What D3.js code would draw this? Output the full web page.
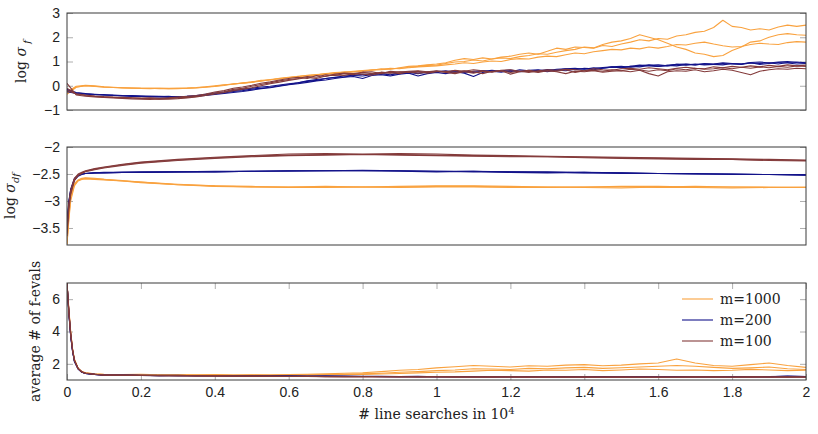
<!DOCTYPE html>
<html><head><meta charset="utf-8">
<script src="https://cdn.jsdelivr.net/npm/d3@7"></script>
<style>
body{margin:0;background:#fff}
svg{display:block;font-family:"DejaVu Serif",serif}
</style></head><body>
<div id="chart"></div>
<script>
// x in units of 10^4 line searches
const xTicks = [0, 0.2, 0.4, 0.6, 0.8, 1, 1.2, 1.4, 1.6, 1.8, 2];
const yTicks1 = [-1, 0, 1, 2, 3];
const yTicks2 = [-3.5, -3, -2.5, -2];
const yTicks3 = [2, 4, 6];
const seriesNames = ["m=1000", "m=200", "m=100"];

// panel 1: log sigma_f, sampled every 0.025
const p1X = d3.range(81).map(i => i * 0.025);
const p1_m1000 = [
  [-0.35,-0.06,0.0,-0.03,-0.05,-0.07,-0.08,-0.09,-0.1,-0.11,-0.11,-0.12,-0.11,-0.1,-0.08,-0.05,-0.02,0.03,0.08,0.1,0.16,0.2,0.26,0.3,0.33,0.39,0.42,0.44,0.5,0.53,0.55,0.6,0.62,0.64,0.7,0.68,0.74,0.8,0.82,0.86,0.9,
   0.95,1.05,1.12,1.08,1.15,1.1,1.18,1.22,1.3,1.35,1.3,1.42,1.55,1.5,1.6,1.58,1.55,1.66,1.62,1.72,1.8,1.9,1.85,1.95,1.92,2.05,2.1,2.2,2.25,2.4,2.7,2.45,2.4,2.3,2.35,2.3,2.42,2.5,2.45,2.5],
  [-0.25,-0.02,0.02,0.0,-0.04,-0.06,-0.08,-0.1,-0.1,-0.1,-0.12,-0.11,-0.1,-0.09,-0.07,-0.04,0.0,0.04,0.06,0.12,0.15,0.22,0.24,0.31,0.35,0.37,0.43,0.46,0.48,0.54,0.57,0.58,0.63,0.66,0.67,0.72,0.7,0.76,0.8,0.84,0.85,
   0.92,0.98,1.0,1.06,1.02,1.1,1.15,1.12,1.2,1.25,1.32,1.3,1.38,1.45,1.5,1.6,1.56,1.7,1.8,1.85,1.95,2.1,2.0,1.9,1.75,1.6,1.5,1.35,1.3,1.2,1.25,1.45,1.6,1.8,1.85,2.0,2.1,2.15,2.1,2.08],
  [-0.3,-0.05,0.0,-0.02,-0.06,-0.07,-0.09,-0.09,-0.11,-0.12,-0.1,-0.12,-0.12,-0.1,-0.09,-0.06,-0.03,0.01,0.07,0.11,0.14,0.19,0.25,0.28,0.34,0.38,0.4,0.45,0.49,0.51,0.56,0.57,0.6,0.65,0.66,0.69,0.72,0.74,0.78,0.8,0.82,
   0.86,0.9,0.95,0.92,0.98,1.02,1.0,1.08,1.12,1.1,1.18,1.22,1.2,1.28,1.35,1.32,1.4,1.45,1.5,1.48,1.55,1.52,1.6,1.55,1.62,1.7,1.68,1.75,1.8,1.72,1.65,1.6,1.62,1.7,1.75,1.72,1.7,1.78,1.82,1.8]
];
const p1_m200 = [
  [-0.2,-0.3,-0.33,-0.35,-0.37,-0.38,-0.4,-0.41,-0.42,-0.43,-0.44,-0.46,-0.45,-0.43,-0.4,-0.35,-0.3,-0.26,-0.2,-0.15,-0.1,-0.05,-0.02,0.03,0.08,0.12,0.2,0.26,0.3,0.35,0.4,0.43,0.47,0.48,0.52,0.55,0.5,0.56,0.58,0.55,0.6,
   0.58,0.62,0.55,0.6,0.63,0.58,0.62,0.65,0.6,0.64,0.66,0.62,0.68,0.7,0.66,0.72,0.7,0.75,0.78,0.74,0.8,0.85,0.82,0.8,0.84,0.88,0.85,0.9,0.86,0.88,0.92,0.9,0.88,0.94,0.92,0.95,0.9,0.96,0.98,0.95],
  [-0.15,-0.28,-0.32,-0.36,-0.36,-0.39,-0.41,-0.4,-0.43,-0.44,-0.45,-0.44,-0.47,-0.44,-0.42,-0.38,-0.33,-0.3,-0.24,-0.2,-0.14,-0.1,-0.06,0.0,0.05,0.12,0.18,0.22,0.3,0.34,0.36,0.42,0.4,0.46,0.5,0.45,0.52,0.55,0.5,0.56,0.58,
   0.62,0.56,0.6,0.55,0.6,0.64,0.6,0.58,0.66,0.62,0.6,0.67,0.64,0.7,0.72,0.68,0.74,0.72,0.78,0.8,0.76,0.82,0.86,0.8,0.84,0.82,0.88,0.86,0.9,0.88,0.86,0.92,0.9,0.95,0.88,0.92,0.96,0.94,0.9,0.92],
  [-0.25,-0.32,-0.35,-0.37,-0.39,-0.4,-0.42,-0.44,-0.44,-0.46,-0.45,-0.47,-0.46,-0.45,-0.43,-0.4,-0.36,-0.32,-0.28,-0.24,-0.18,-0.12,-0.08,-0.02,0.04,0.08,0.14,0.2,0.24,0.3,0.35,0.38,0.3,0.42,0.46,0.4,0.48,0.52,0.4,0.5,0.55,
   0.5,0.58,0.52,0.38,0.55,0.6,0.56,0.62,0.58,0.6,0.64,0.58,0.65,0.62,0.68,0.7,0.66,0.72,0.76,0.74,0.8,0.78,0.84,0.86,0.82,0.88,0.9,0.86,0.92,0.9,0.95,0.92,0.9,0.96,0.98,0.94,0.98,1.0,0.96,0.94]
];
const p1_m100 = [
  [-0.1,-0.35,-0.4,-0.44,-0.47,-0.48,-0.5,-0.5,-0.52,-0.53,-0.55,-0.52,-0.5,-0.48,-0.44,-0.38,-0.3,-0.25,-0.15,-0.1,-0.02,0.05,0.12,0.2,0.26,0.3,0.38,0.35,0.45,0.42,0.5,0.46,0.55,0.5,0.56,0.52,0.58,0.55,0.6,0.52,0.58,
   0.6,0.55,0.62,0.58,0.5,0.6,0.62,0.55,0.6,0.64,0.58,0.62,0.6,0.66,0.55,0.62,0.64,0.6,0.66,0.62,0.68,0.65,0.6,0.66,0.62,0.7,0.66,0.72,0.68,0.7,0.74,0.7,0.76,0.72,0.78,0.74,0.8,0.76,0.82,0.8],
  [0.1,-0.38,-0.43,-0.46,-0.48,-0.5,-0.52,-0.54,-0.55,-0.56,-0.54,-0.55,-0.53,-0.5,-0.46,-0.4,-0.34,-0.28,-0.2,-0.14,-0.08,0.0,0.08,0.15,0.22,0.28,0.34,0.3,0.4,0.45,0.42,0.5,0.48,0.44,0.52,0.55,0.5,0.58,0.52,0.56,0.6,
   0.55,0.5,0.58,0.52,0.6,0.56,0.62,0.48,0.58,0.6,0.55,0.62,0.58,0.5,0.6,0.58,0.62,0.56,0.6,0.62,0.58,0.64,0.5,0.4,0.58,0.62,0.6,0.66,0.58,0.62,0.68,0.64,0.55,0.45,0.6,0.66,0.7,0.68,0.72,0.7],
  [-0.2,-0.33,-0.38,-0.42,-0.45,-0.47,-0.48,-0.5,-0.51,-0.5,-0.52,-0.5,-0.47,-0.44,-0.4,-0.34,-0.26,-0.2,-0.1,-0.05,0.02,0.1,0.16,0.24,0.3,0.35,0.3,0.42,0.38,0.48,0.52,0.5,0.56,0.58,0.5,0.6,0.56,0.6,0.62,0.58,0.62,
   0.58,0.64,0.6,0.66,0.62,0.58,0.64,0.66,0.6,0.55,0.62,0.66,0.64,0.68,0.66,0.62,0.7,0.66,0.64,0.7,0.72,0.68,0.74,0.7,0.66,0.72,0.76,0.72,0.7,0.78,0.74,0.8,0.76,0.82,0.78,0.84,0.8,0.86,0.82,0.85]
];

// panel 2: log sigma_df
const p2X = [0,0.005,0.01,0.02,0.03,0.04,0.05,0.075,0.1,0.15,0.2,0.3,0.4,0.5,0.6,0.7,0.8,0.9,1.0,1.1,1.2,1.3,1.4,1.5,1.6,1.7,1.8,1.9,2.0];
const p2_m1000 = [
  [-3.8,-3.3,-2.95,-2.7,-2.62,-2.59,-2.58,-2.59,-2.6,-2.63,-2.65,-2.69,-2.72,-2.73,-2.74,-2.74,-2.74,-2.74,-2.73,-2.73,-2.74,-2.74,-2.74,-2.73,-2.73,-2.74,-2.74,-2.75,-2.74],
  [-3.75,-3.25,-2.9,-2.68,-2.61,-2.58,-2.57,-2.58,-2.6,-2.62,-2.65,-2.7,-2.73,-2.74,-2.75,-2.75,-2.74,-2.73,-2.72,-2.72,-2.73,-2.74,-2.75,-2.76,-2.74,-2.73,-2.74,-2.74,-2.75],
  [-3.8,-3.35,-3.0,-2.72,-2.63,-2.6,-2.59,-2.6,-2.61,-2.63,-2.66,-2.7,-2.72,-2.74,-2.74,-2.73,-2.74,-2.75,-2.74,-2.74,-2.75,-2.75,-2.74,-2.74,-2.75,-2.75,-2.76,-2.75,-2.75]
];
const p2_m200 = [
  [-3.4,-3.0,-2.8,-2.6,-2.53,-2.5,-2.49,-2.48,-2.48,-2.47,-2.47,-2.46,-2.46,-2.45,-2.45,-2.44,-2.44,-2.44,-2.45,-2.45,-2.46,-2.47,-2.47,-2.48,-2.49,-2.5,-2.5,-2.51,-2.51],
  [-3.5,-3.05,-2.82,-2.62,-2.54,-2.51,-2.49,-2.48,-2.47,-2.47,-2.46,-2.46,-2.45,-2.45,-2.44,-2.44,-2.43,-2.44,-2.45,-2.46,-2.46,-2.46,-2.48,-2.48,-2.49,-2.49,-2.5,-2.51,-2.52],
  [-3.45,-3.02,-2.78,-2.58,-2.52,-2.5,-2.49,-2.48,-2.48,-2.47,-2.47,-2.46,-2.46,-2.45,-2.44,-2.44,-2.44,-2.45,-2.46,-2.45,-2.47,-2.48,-2.47,-2.49,-2.49,-2.5,-2.51,-2.51,-2.52]
];
const p2_m100 = [
  [-3.6,-3.1,-2.85,-2.6,-2.52,-2.48,-2.45,-2.41,-2.38,-2.33,-2.29,-2.24,-2.2,-2.17,-2.15,-2.14,-2.14,-2.14,-2.15,-2.16,-2.17,-2.18,-2.19,-2.2,-2.21,-2.22,-2.23,-2.24,-2.25],
  [-3.55,-3.05,-2.8,-2.58,-2.5,-2.47,-2.44,-2.4,-2.37,-2.32,-2.28,-2.23,-2.19,-2.16,-2.13,-2.12,-2.13,-2.12,-2.13,-2.15,-2.16,-2.17,-2.18,-2.19,-2.2,-2.21,-2.22,-2.23,-2.24],
  [-3.65,-3.15,-2.88,-2.62,-2.53,-2.49,-2.46,-2.42,-2.39,-2.34,-2.3,-2.25,-2.21,-2.18,-2.16,-2.15,-2.14,-2.15,-2.16,-2.17,-2.18,-2.18,-2.2,-2.21,-2.22,-2.23,-2.23,-2.25,-2.26]
];

// panel 3: average # of f-evals
const p3X = [0,0.005,0.01,0.015,0.02,0.03,0.04,0.05,0.075].concat(d3.range(39).map(i => 0.1 + i * 0.05));
const p3_m1000 = [
  [7.0,5.3,3.9,2.9,2.25,1.72,1.52,1.44,1.37,
   1.34,1.33,1.35,1.32,1.33,1.31,1.34,1.3,1.32,1.3,1.33,1.36,1.38,1.42,1.45,1.52,1.6,1.65,1.75,1.82,1.9,1.85,1.8,1.88,1.85,1.92,1.95,1.88,1.92,2.0,2.05,2.3,2.05,1.9,1.85,1.95,2.05,1.9,1.78],
  [7.0,5.2,3.8,2.85,2.2,1.7,1.5,1.42,1.36,
   1.33,1.34,1.31,1.33,1.3,1.32,1.3,1.31,1.29,1.31,1.3,1.32,1.34,1.36,1.38,1.42,1.48,1.52,1.58,1.62,1.7,1.68,1.65,1.72,1.7,1.75,1.78,1.72,1.76,1.8,1.85,1.9,1.85,1.78,1.72,1.75,1.8,1.7,1.65],
  [7.0,5.4,4.0,2.95,2.3,1.74,1.53,1.45,1.38,
   1.35,1.32,1.33,1.3,1.31,1.29,1.3,1.28,1.3,1.29,1.31,1.3,1.32,1.33,1.35,1.37,1.4,1.44,1.48,1.5,1.55,1.6,1.58,1.55,1.62,1.6,1.65,1.58,1.62,1.68,1.65,1.6,1.62,1.58,1.6,1.66,1.62,1.58,1.6]
];
const p3_m200 = [
  [7.0,5.1,3.7,2.8,2.15,1.68,1.48,1.4,1.34,
   1.3,1.3,1.28,1.29,1.27,1.28,1.26,1.27,1.25,1.26,1.24,1.25,1.23,1.24,1.22,1.23,1.22,1.21,1.22,1.2,1.22,1.21,1.2,1.22,1.2,1.21,1.2,1.19,1.21,1.2,1.22,1.2,1.19,1.21,1.2,1.22,1.2,1.25,1.22],
  [7.0,5.2,3.75,2.82,2.18,1.7,1.49,1.41,1.35,
   1.31,1.29,1.29,1.27,1.28,1.26,1.27,1.25,1.26,1.24,1.25,1.23,1.24,1.22,1.23,1.21,1.22,1.2,1.21,1.22,1.2,1.21,1.19,1.2,1.21,1.19,1.2,1.21,1.19,1.2,1.21,1.22,1.2,1.19,1.21,1.2,1.19,1.21,1.2],
  [7.0,5.15,3.72,2.78,2.16,1.69,1.49,1.4,1.35,
   1.3,1.31,1.28,1.27,1.29,1.26,1.26,1.25,1.27,1.24,1.24,1.22,1.25,1.23,1.22,1.22,1.21,1.23,1.2,1.21,1.21,1.19,1.22,1.2,1.2,1.22,1.19,1.21,1.2,1.22,1.19,1.21,1.2,1.22,1.2,1.19,1.21,1.23,1.21]
];
const p3_m100 = [
  [7.0,5.25,3.85,2.88,2.22,1.71,1.5,1.42,1.35,
   1.31,1.3,1.28,1.27,1.27,1.25,1.26,1.24,1.24,1.23,1.22,1.23,1.21,1.22,1.2,1.21,1.19,1.2,1.2,1.18,1.19,1.2,1.18,1.19,1.17,1.18,1.19,1.17,1.18,1.19,1.17,1.18,1.19,1.18,1.17,1.19,1.18,1.2,1.18],
  [7.0,5.3,3.9,2.9,2.24,1.72,1.51,1.43,1.36,
   1.32,1.29,1.29,1.28,1.26,1.26,1.25,1.25,1.23,1.24,1.22,1.22,1.21,1.21,1.2,1.2,1.2,1.19,1.21,1.19,1.18,1.19,1.19,1.18,1.2,1.18,1.17,1.19,1.18,1.18,1.19,1.17,1.18,1.2,1.18,1.18,1.19,1.18,1.19],
  [7.0,5.2,3.8,2.86,2.2,1.7,1.5,1.42,1.36,
   1.3,1.31,1.29,1.27,1.28,1.25,1.27,1.24,1.25,1.23,1.23,1.22,1.22,1.2,1.21,1.21,1.2,1.19,1.2,1.2,1.19,1.18,1.2,1.19,1.18,1.19,1.2,1.18,1.19,1.17,1.19,1.18,1.2,1.19,1.18,1.2,1.19,1.17,1.19]
];

const W = 818, H = 434;
const left = 67, right = 806;
const colors = ["#f9a23f", "#13138a", "#843b3b"];
const fmt = d3.format("");

const svg = d3.select("#chart").append("svg").attr("width", W).attr("height", H);
const x = d3.scaleLinear().domain([0, 2]).range([left, right]);

function styleAxis(g) {
  g.select(".domain").remove();
  g.selectAll(".tick line").attr("stroke", "#999").attr("stroke-width", 0.8);
  g.selectAll(".tick text").attr("fill", "#222").style("font-size", "14px");
}

function panel(id, top, bottom, domain, yTicks, xs, groups, yLabel, labelX, xAxis) {
  const y = d3.scaleLinear().domain(domain).range([bottom, top]);

  svg.append("clipPath").attr("id", "clip" + id)
    .append("rect").attr("x", left).attr("y", top).attr("width", right - left).attr("height", bottom - top);

  svg.append("g").attr("transform", `translate(${left},0)`)
    .call(d3.axisLeft(y).tickValues(yTicks).tickSize(-6).tickPadding(7).tickFormat(fmt))
    .call(styleAxis);
  svg.append("g").attr("transform", `translate(${right},0)`)
    .call(d3.axisRight(y).tickValues(yTicks).tickSize(-6).tickFormat(""))
    .call(styleAxis);

  if (xAxis) {
    svg.append("g").attr("transform", `translate(0,${top})`)
      .call(d3.axisTop(x).tickValues(xTicks).tickSize(-6).tickFormat(""))
      .call(styleAxis);
    svg.append("g").attr("transform", `translate(0,${bottom})`)
      .call(d3.axisBottom(x).tickValues(xTicks).tickSize(-6).tickPadding(7).tickFormat(fmt))
      .call(styleAxis);
  }

  const line = d3.line().x((d, i) => x(xs[i])).y(d => y(d));
  const lines = svg.append("g").attr("clip-path", `url(#clip${id})`);
  groups.forEach((runs, k) => {
    runs.forEach(run => {
      lines.append("path").datum(run).attr("d", line)
        .attr("fill", "none").attr("stroke", colors[k]).attr("stroke-width", 1.1)
        .attr("stroke-linejoin", "round");
    });
  });

  svg.append("rect").attr("x", left).attr("y", top).attr("width", right - left).attr("height", bottom - top)
    .attr("fill", "none").attr("stroke", "#3a3a3a").attr("stroke-width", 1);

  const t = svg.append("text")
    .attr("transform", `translate(${labelX},${(top + bottom) / 2}) rotate(-90)`)
    .attr("text-anchor", "middle").attr("dominant-baseline", "central")
    .attr("fill", "#222").style("font-size", "14px");
  yLabel(t);
}

panel(1, 13, 110, [-1, 3], yTicks1, p1X, [p1_m1000, p1_m200, p1_m100], t => {
  t.append("tspan").text("log ");
  t.append("tspan").attr("font-style", "italic").text("σ");
  t.append("tspan").attr("font-style", "italic").attr("baseline-shift", "sub").style("font-size", "10px").text(" f");
}, 21, false);

panel(2, 147, 245, [-3.815, -2], yTicks2, p2X, [p2_m1000, p2_m200, p2_m100], t => {
  t.append("tspan").text("log ");
  t.append("tspan").attr("font-style", "italic").text("σ");
  t.append("tspan").attr("font-style", "italic").attr("baseline-shift", "sub").style("font-size", "10px").text("df");
}, 10, false);

panel(3, 283, 380, [1, 7], yTicks3, p3X, [p3_m1000, p3_m200, p3_m100], t => {
  t.text("average # of f-evals");
}, 35, true);

// x label
const xl = svg.append("text").attr("x", (left + right) / 2).attr("y", 419)
  .attr("text-anchor", "middle").attr("fill", "#222").style("font-size", "14px");
xl.append("tspan").text("# line searches in 10");
xl.append("tspan").attr("baseline-shift", "super").style("font-size", "10px").text("4");

// legend
const legend = svg.append("g").attr("transform", "translate(682,299)");
seriesNames.forEach((name, i) => {
  const row = legend.append("g").attr("transform", `translate(0,${i * 21})`);
  row.append("line").attr("x1", 0).attr("x2", 31).attr("y1", 0).attr("y2", 0)
    .attr("stroke", colors[i]).attr("stroke-width", 1.1);
  row.append("text").attr("x", 38).attr("y", 0).attr("dominant-baseline", "central")
    .attr("fill", "#222").style("font-size", "14px").text(name);
});
</script>
</body></html>
